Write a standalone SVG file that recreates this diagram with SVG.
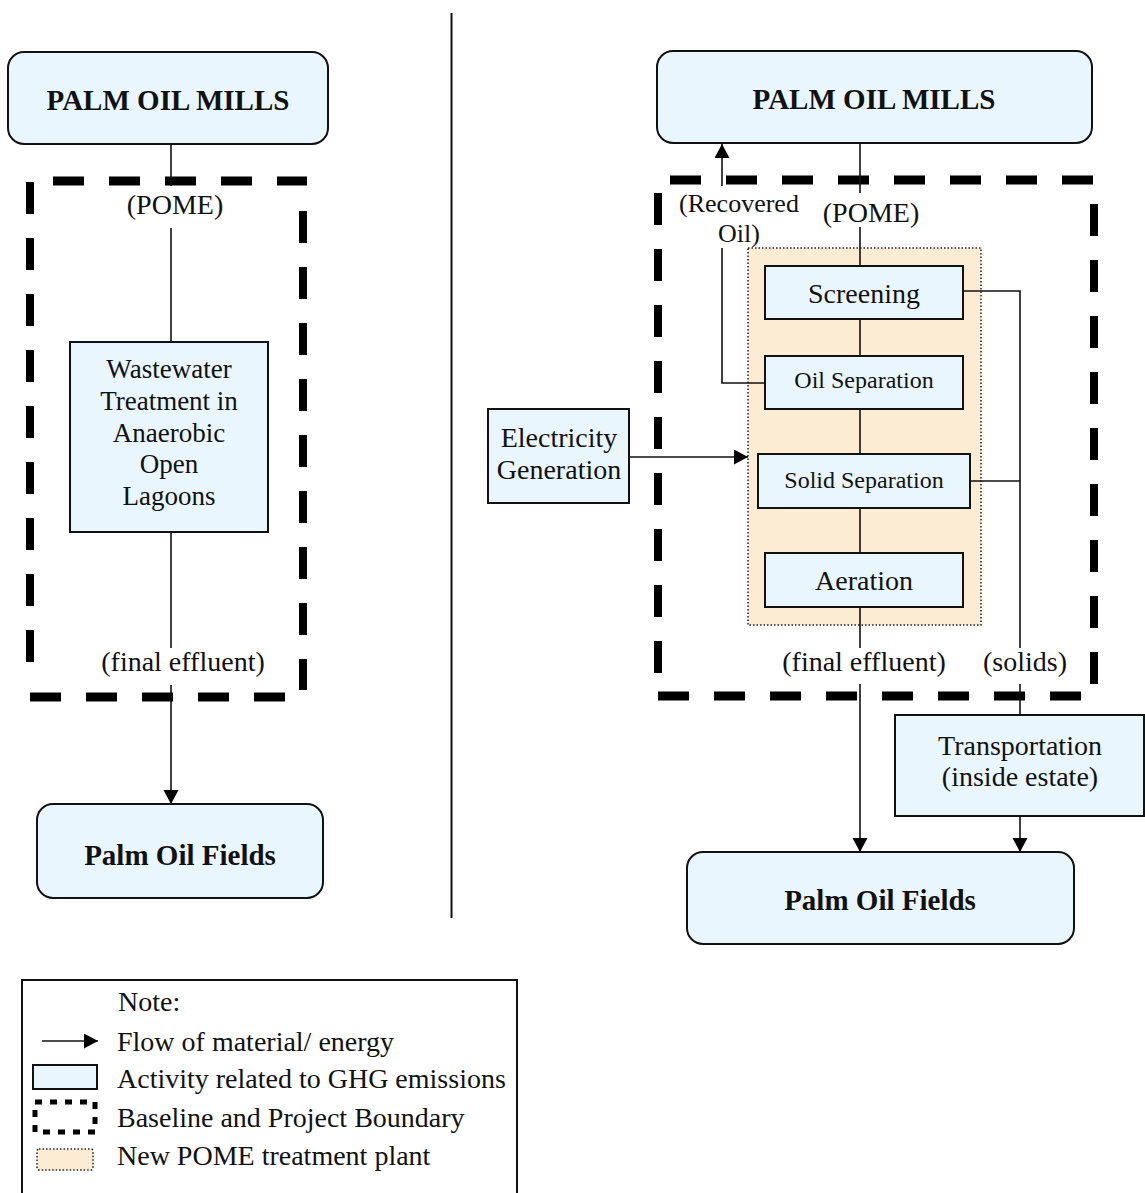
<svg xmlns="http://www.w3.org/2000/svg" width="1145" height="1193" viewBox="0 0 1145 1193">
  <style>
    .box { fill: #eaf6fe; stroke: #111; stroke-width: 2; }
    .plant { fill: #fcecd3; stroke: #222; stroke-width: 1.5; stroke-dasharray: 1.5 2; }
    .t { font-family: "Liberation Serif", "Times New Roman", serif; fill: #111; text-anchor: middle; }
    .b { font-weight: bold; font-size: 29px; }
    .r28 { font-size: 28px; }
    .r27 { font-size: 27px; }
    .r26 { font-size: 26px; }
    .r24 { font-size: 24px; }
    .lg { font-family: "Liberation Serif", "Times New Roman", serif; font-size: 28px; fill: #111; }
    .ln { stroke: #111; stroke-width: 1.6; fill: none; }
    .arr { stroke: #111; stroke-width: 1.6; fill: none; marker-end: url(#head); }
    .bdh { stroke: #000; stroke-width: 9; fill: none; stroke-dasharray: 31 25; }
    .bdv { stroke: #000; stroke-width: 8; fill: none; stroke-dasharray: 32 24; }
  </style>
  <defs>
    <marker id="head" markerUnits="userSpaceOnUse" markerWidth="15" markerHeight="16" refX="14" refY="7.5" orient="auto">
      <path d="M0,0 L14,7.5 L0,15 z" fill="#000"/>
    </marker>
  </defs>

  <rect width="1145" height="1193" fill="#fff"/>

  <!-- panel divider -->
  <line x1="451.5" y1="13" x2="451.5" y2="918" stroke="#111" stroke-width="2"/>

  <!-- boundaries -->
  <g id="boundary-left">
    <line class="bdh" x1="53" y1="181" x2="307" y2="181"/>
    <line class="bdv" x1="30" y1="182" x2="30" y2="662"/>
    <line class="bdh" x1="30" y1="697" x2="286" y2="697"/>
    <line class="bdv" x1="303" y1="211" x2="303" y2="690"/>
  </g>
  <g id="boundary-right">
    <line class="bdh" x1="670" y1="180" x2="1093" y2="180"/>
    <line class="bdv" x1="658" y1="193" x2="658" y2="673"/>
    <line class="bdh" x1="658" y1="696" x2="1082" y2="696"/>
    <line class="bdv" x1="1094" y1="204" x2="1094" y2="684"/>
  </g>

  <!-- new treatment plant area -->
  <g id="plant-area">
    <rect class="plant" x="748" y="248" width="233" height="377"/>
  </g>

  <!-- connectors -->
  <g id="connectors">
    <!-- left panel -->
    <line class="ln" x1="171" y1="144" x2="171" y2="186"/>
    <line class="ln" x1="171" y1="228" x2="171" y2="342"/>
    <line class="ln" x1="171" y1="532" x2="171" y2="648"/>
    <line class="arr" x1="171" y1="685" x2="171" y2="804"/>

    <!-- right panel: POME main line -->
    <line class="ln" x1="860" y1="143" x2="860" y2="193"/>
    <line class="ln" x1="860" y1="227" x2="860" y2="266"/>
    <line class="ln" x1="860" y1="319" x2="860" y2="356"/>
    <line class="ln" x1="860" y1="409" x2="860" y2="454"/>
    <line class="ln" x1="860" y1="508" x2="860" y2="553"/>
    <line class="ln" x1="860" y1="607" x2="860" y2="648"/>
    <line class="arr" x1="860" y1="684" x2="860" y2="852"/>

    <!-- recovered oil -->
    <polyline class="ln" points="765,383 722,383 722,248"/>
    <line class="arr" x1="722" y1="186" x2="722" y2="144"/>

    <!-- electricity -->
    <line class="arr" x1="629" y1="457" x2="748" y2="457"/>

    <!-- solids -->
    <polyline class="ln" points="963,291 1020,291 1020,648"/>
    <line class="ln" x1="970" y1="481" x2="1020" y2="481"/>
    <line class="ln" x1="1020" y1="684" x2="1020" y2="715"/>
    <line class="arr" x1="1020" y1="816" x2="1020" y2="852"/>
  </g>

  <!-- left panel nodes -->
  <g id="mills-left">
    <rect class="box" x="8" y="52" width="320" height="92" rx="16"/>
    <text class="t b" x="168" y="110">PALM OIL MILLS</text>
  </g>
  <g id="label-pome-left">
    <text class="t r28" x="175" y="214">(POME)</text>
  </g>
  <g id="lagoons">
    <rect class="box" x="70" y="342" width="198" height="190"/>
    <text class="t r27" x="169" y="378">Wastewater</text>
    <text class="t r27" x="169" y="410">Treatment in</text>
    <text class="t r27" x="169" y="442">Anaerobic</text>
    <text class="t r27" x="169" y="473">Open</text>
    <text class="t r27" x="169" y="505">Lagoons</text>
  </g>
  <g id="label-effluent-left">
    <text class="t r28" x="183" y="671">(final effluent)</text>
  </g>
  <g id="fields-left">
    <rect class="box" x="37" y="804" width="286" height="94" rx="16"/>
    <text class="t b" x="180" y="865">Palm Oil Fields</text>
  </g>

  <!-- right panel nodes -->
  <g id="mills-right">
    <rect class="box" x="657" y="51" width="435" height="92" rx="16"/>
    <text class="t b" x="874" y="109">PALM OIL MILLS</text>
  </g>
  <g id="label-recovered">
    <text class="t r26" x="739" y="212">(Recovered</text>
    <text class="t r26" x="739" y="242">Oil)</text>
  </g>
  <g id="label-pome-right">
    <text class="t r28" x="871" y="222">(POME)</text>
  </g>
  <g id="screening">
    <rect class="box" x="765" y="266" width="198" height="53"/>
    <text class="t r28" x="864" y="303">Screening</text>
  </g>
  <g id="oil-separation">
    <rect class="box" x="765" y="356" width="198" height="53"/>
    <text class="t r24" x="864" y="388">Oil Separation</text>
  </g>
  <g id="solid-separation">
    <rect class="box" x="758" y="454" width="212" height="54"/>
    <text class="t r24" x="864" y="488">Solid Separation</text>
  </g>
  <g id="aeration">
    <rect class="box" x="765" y="553" width="198" height="54"/>
    <text class="t r28" x="864" y="590">Aeration</text>
  </g>
  <g id="electricity">
    <rect class="box" x="488" y="409" width="141" height="94"/>
    <text class="t r28" x="559" y="447">Electricity</text>
    <text class="t r28" x="559" y="479">Generation</text>
  </g>
  <g id="label-effluent-right">
    <text class="t r28" x="864" y="671">(final effluent)</text>
  </g>
  <g id="label-solids">
    <text class="t r28" x="1025" y="671">(solids)</text>
  </g>
  <g id="transportation">
    <rect class="box" x="895" y="715" width="249" height="101"/>
    <text class="t r28" x="1020" y="755">Transportation</text>
    <text class="t r28" x="1020" y="786">(inside estate)</text>
  </g>
  <g id="fields-right">
    <rect class="box" x="687" y="852" width="387" height="92" rx="16"/>
    <text class="t b" x="880" y="910">Palm Oil Fields</text>
  </g>

  <!-- legend -->
  <g id="legend">
    <rect x="22" y="980" width="495" height="230" fill="#fff" stroke="#111" stroke-width="2"/>
    <text class="lg" x="118" y="1011">Note:</text>
    <line class="arr" x1="42" y1="1041" x2="98" y2="1041"/>
    <text class="lg" x="117" y="1051">Flow of material/ energy</text>
    <rect class="box" x="33" y="1065" width="64" height="24"/>
    <text class="lg" x="117" y="1088">Activity related to GHG emissions</text>
    <rect x="35" y="1102" width="60" height="30" fill="none" stroke="#000" stroke-width="5" stroke-dasharray="7 8"/>
    <text class="lg" x="117" y="1127">Baseline and Project Boundary</text>
    <rect class="plant" x="37" y="1149" width="56" height="21" rx="2"/>
    <text class="lg" x="117" y="1165">New POME treatment plant</text>
  </g>
</svg>
